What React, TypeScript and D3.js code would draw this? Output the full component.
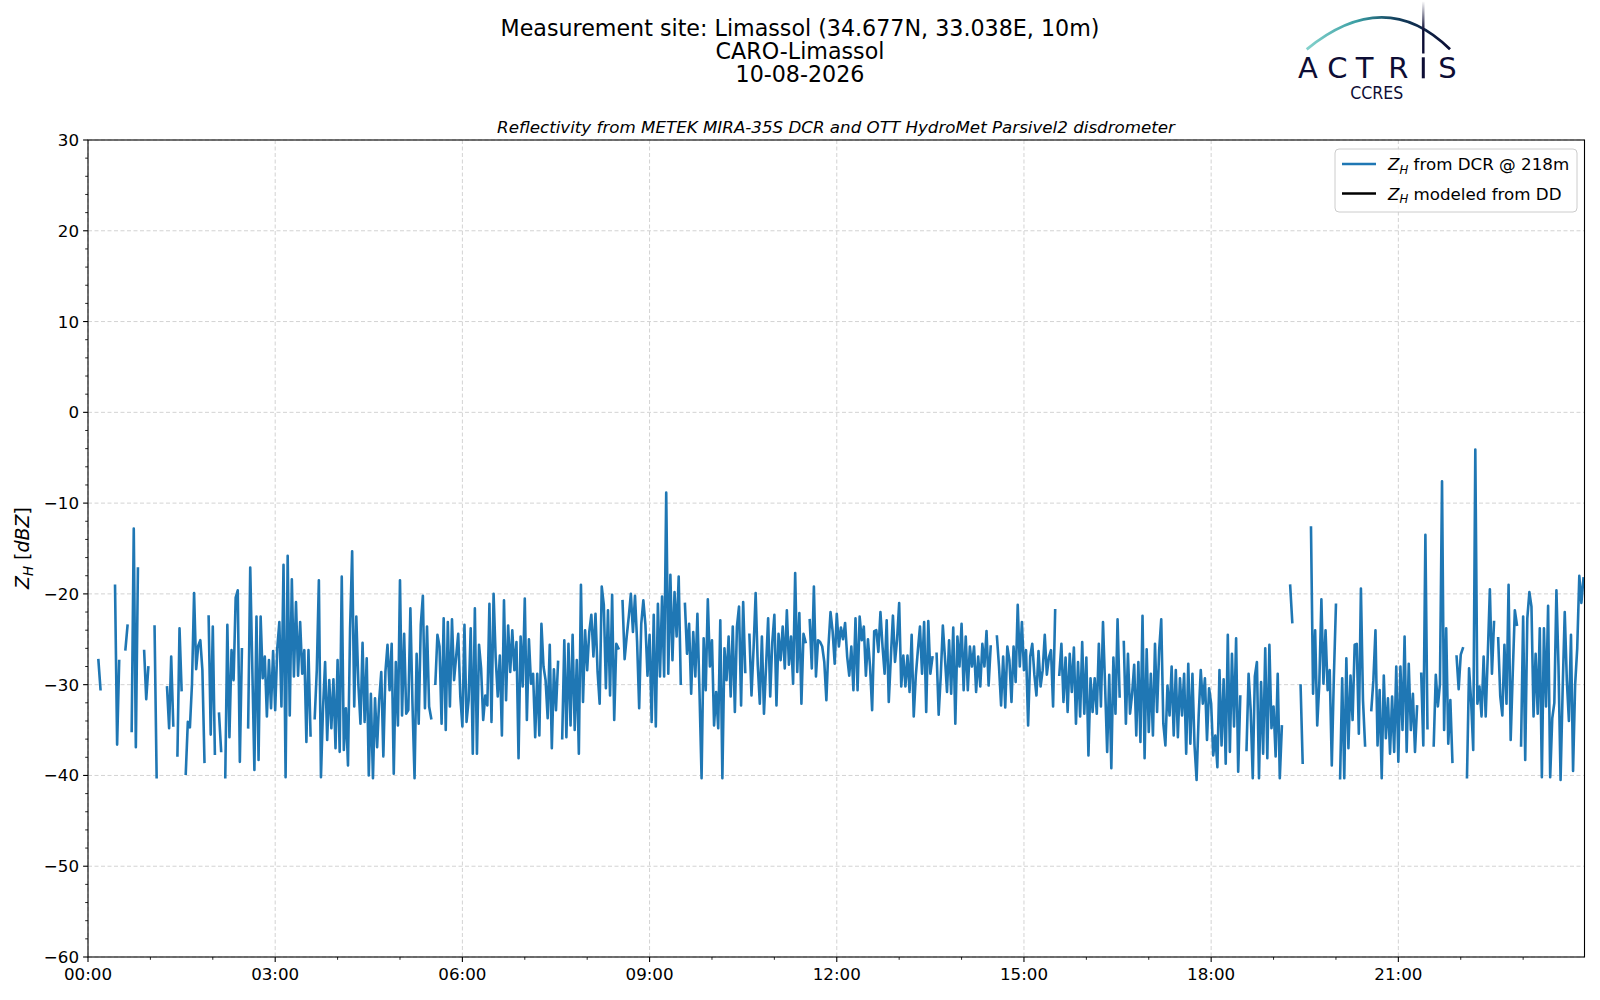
import React from 'react';
import * as d3 from 'd3';

const N = null;
const STEP_MIN = 2;
const BLOCK_MIN = 180;

// Z_H from DCR @ 218m, dBZ, one value every 2 minutes, one array per 3 hours
const zh0000: (number | null)[] = [
  N, N, N, N, N, -27.3, -30.5, N, N, N,
  N, N, N, -19.1, -36.6, -27.4, N, N, -26.1, -23.5,
  N, -35.1, -12.8, -36.9, -17.2, N, N, -26.3, -31.6, -28.1,
  N, N, -23.6, -40.2, N, N, N, N, -30.3, -34.8,
  -26.9, -34.5, N, -37.8, -23.8, -30.6, N, -39.8, -34.1, -34.7,
  -29.9, -19.9, -28.3, -25.7, -25.1, -28.4, -38.5, N, -22.5, -35.5,
  -23.6, -37.6, N, -33.2, -37.3, N, -40.2, -23.4, -35.8, -26.2,
  -29.5, -20.4, -19.6, -38.5, -26.1, N, N, -34.7, -17.1, -28.2,
  -39.4, -22.5, -38.3, -22.5, -29.3, -26.9, -33.5, -27.3, -32.6, -26.3,
];
const zh0300: (number | null)[] = [
  -32.8, -26.0, -23.1, -32.4, -16.8, -40.2, -15.8, -33.4, -18.4, -29.1,
  -20.9, -29.0, -23.1, -28.8, -26.2, -36.3, -26.2, -35.6, N, -33.7,
  -28.4, -18.5, -40.2, -32.6, -27.5, -36.1, -29.5, -34.8, -29.4, -37.0,
  -27.3, -37.4, -18.1, -37.2, -32.6, -38.9, -23.9, -15.3, -32.4, -22.5,
  -30.0, -34.3, -25.4, -34.1, -27.1, -40.0, -31.0, -40.3, -31.5, -36.9,
  -31.7, -28.6, -37.9, -28.6, -25.6, -30.6, -25.5, -39.8, -27.5, -34.5,
  -18.5, -33.4, -24.4, -33.2, -32.8, -21.6, -32.1, -40.3, -26.6, -34.3,
  -23.4, -20.2, -32.6, -23.6, -32.4, -33.7, N, -29.9, -24.5, -25.8,
  -34.3, -22.7, -35.0, -23.1, -32.4, -22.8, -29.5, -26.9, -24.4, -31.3,
];
const zh0600: (number | null)[] = [
  -34.6, -23.4, -34.1, -31.7, -23.8, -37.6, -21.6, -37.6, -25.6, -28.2,
  -33.9, -31.2, -32.3, -21.1, -34.1, -20.0, -27.0, -31.3, -26.8, -35.6,
  -20.7, -31.7, -23.5, -28.6, -24.0, -28.4, -25.3, -38.1, -24.7, -30.2,
  -20.5, -33.9, -25.0, -29.9, -28.8, -35.8, -28.8, -35.6, -23.3, -28.0,
  -29.5, -33.7, -25.6, -37.0, -28.3, -32.8, -27.5, N, -35.9, -25.1,
  -35.8, -25.5, -34.5, -24.5, -35.0, -27.3, -37.6, -19.0, -31.9, -24.0,
  -28.4, -24.2, -22.3, -26.9, -22.2, -28.6, -32.1, -19.2, -21.2, -30.4,
  -21.8, -31.2, -20.1, -33.9, -25.5, -26.0, N, -20.8, -27.2, -24.7,
  -22.5, -20.0, -24.2, -20.2, -25.3, -32.6, -23.3, -20.7, -23.4, -29.0,
];
const zh0900: (number | null)[] = [
  -24.5, -34.1, -22.3, -34.6, -21.1, -29.1, -20.3, -29.1, -8.85, -28.8,
  -17.9, -27.3, -19.8, -24.7, -18.1, -29.9, N, -21.1, -26.6, -23.3,
  -31.0, -24.2, -29.1, -22.2, -30.8, -40.3, -24.9, -30.6, -20.6, -28.0,
  -25.1, -34.5, -30.8, -34.8, -22.9, -40.3, -26.0, -29.5, -24.7, -31.3,
  -23.6, -33.0, -23.6, -21.4, -32.3, -20.9, -28.6, N, -24.5, -31.2,
  -26.0, -19.9, -27.8, -32.1, -24.7, -33.2, -28.0, -22.7, -31.3, -25.3,
  -22.3, -32.3, -24.4, -27.3, -23.6, -28.2, -21.8, -27.8, -24.7, -29.9,
  -17.7, -28.6, -22.1, -32.1, -24.4, -25.3, N, -22.9, -28.2, -19.2,
  -29.1, -25.1, -25.3, -25.8, -27.5, -31.7, -25.8, -22.0, -24.1, -27.7,
];
const zh1200: (number | null)[] = [
  -22.2, -25.8, -23.7, -25.0, -23.2, -26.9, -29.0, -25.8, -30.6, -22.7,
  -30.6, -22.5, -25.1, -23.6, -29.0, -25.0, -28.0, -32.8, -24.1, -24.0,
  -26.4, -22.0, -25.8, -28.8, -22.9, -31.9, -27.0, -22.4, -27.5, -25.0,
  -21.0, -30.2, -26.8, -30.2, -26.8, -30.8, -24.5, -33.5, -29.0, -26.2,
  -23.6, -28.8, -23.1, -33.0, -23.0, -28.8, -27.0, N, -26.6, -33.3,
  -29.0, -23.5, -27.0, -30.8, -25.1, -31.0, -23.7, -34.3, -24.7, -28.0,
  -23.3, -30.6, -24.7, -30.6, -25.8, -28.0, -25.8, -30.8, -26.9, -30.2,
  -25.5, -28.0, -24.1, -30.1, -25.8, N, N, -24.7, -28.0, -32.3,
  -26.9, -32.5, -25.8, -27.3, -31.9, -25.8, -29.7, -21.2, -28.0, -23.1,
];
const zh1500: (number | null)[] = [
  -28.4, -26.2, -34.5, -26.9, -25.5, -28.9, -31.2, -26.3, -30.2, -28.4,
  -24.5, -28.9, -27.0, -26.2, -32.4, -21.8, N, -28.9, -25.5, -31.9,
  -27.0, -33.0, -26.6, -30.8, -25.9, -34.3, -27.5, -33.5, -25.3, -33.2,
  -27.0, -37.8, -29.3, -33.0, -29.3, -33.2, -25.5, -32.4, -23.1, -30.1,
  -37.4, -28.9, -39.2, -27.0, -33.2, -22.8, -31.3, N, -25.3, -34.3,
  -26.6, -33.2, -31.0, -27.8, -35.6, -27.5, -36.3, -22.4, -38.1, -26.1,
  -35.2, -28.8, -35.6, -25.5, -33.0, -26.2, -22.8, -34.3, -36.7, -30.1,
  -33.4, -28.0, -35.6, -28.4, -35.8, -29.3, -33.4, -28.8, -37.6, -27.7,
  -36.5, -28.8, -36.7, -40.5, -33.4, -28.4, -32.1, -29.3, -36.1, -30.4,
];
const zh1800: (number | null)[] = [
  -32.1, -37.8, -35.6, -39.1, -28.4, -36.7, -29.4, -38.7, -24.5, -37.4,
  -26.6, -34.6, -24.9, -39.6, -31.3, N, N, -37.2, -28.8, -32.8,
  -40.3, -29.1, -27.5, -40.3, -29.7, -37.6, -26.0, -38.1, -25.6, -34.8,
  -32.4, -37.9, -28.8, -40.3, -34.6, N, N, N, -19.1, -23.1,
  N, N, N, -30.1, -38.6, N, N, N, -12.7, -31.0,
  -24.0, -34.5, -29.9, -20.6, -29.9, -24.0, -30.6, -28.4, -38.9, -29.1,
  -21.2, N, -40.3, -29.3, -40.3, -27.1, -37.0, -29.0, -33.9, -25.6,
  -25.5, -35.4, -19.4, -31.7, -36.7, N, N, -32.8, -29.5, -24.0,
  -36.7, -30.6, -40.3, -29.0, -35.9, -31.5, -37.6, -31.3, -37.4, -28.0,
];
const zh2100: (number | null)[] = [
  -38.5, -28.0, -35.0, -24.7, -37.4, -27.7, -35.0, -31.0, -37.4, -32.4,
  N, -28.8, -36.7, -13.5, -34.8, N, N, -36.7, -28.9, -32.4,
  -29.9, -7.6, -35.0, -23.8, -36.5, -31.7, -38.5, N, -26.9, -30.5,
  -26.7, -26.0, N, -40.2, -28.2, -31.9, -37.2, -4.1, -32.1, -30.2,
  -33.5, -26.9, -33.5, -26.7, -19.5, -28.8, -23.1, N, -24.9, -31.3,
  -33.4, -25.6, -32.1, -19.0, -36.1, -28.8, -21.8, -23.4, N, -36.7,
  -22.5, -38.3, -22.7, -19.8, -21.4, -33.5, -26.6, -33.2, -23.8, -40.2,
  -23.8, -32.4, -21.3, -40.2, -33.7, -32.0, -19.6, -28.0, -40.5, -30.5,
  -22.0, -29.5, -34.0, -24.5, -39.5, -30.0, -26.0, -18.0, -21.0, -18.3,
];
const dcrBlocks = [zh0000, zh0300, zh0600, zh0900, zh1200, zh1500, zh1800, zh2100];

const yMajorTicks = [-60, -50, -40, -30, -20, -10, 0, 10, 20, 30];
const xMajorMinutes = [0, 180, 360, 540, 720, 900, 1080, 1260];
const xTickLabels = ['00:00', '03:00', '06:00', '09:00', '12:00', '15:00', '18:00', '21:00'];
const titleLines = ['Measurement site: Limassol (34.677N, 33.038E, 10m)', 'CARO-Limassol', '10-08-2026'];
const subtitle = 'Reflectivity from METEK MIRA-35S DCR and OTT HydroMet Parsivel2 disdrometer';
const legendLabels = ['from DCR @ 218m', 'modeled from DD'];
const legendColors = ['#1f77b4', '#000000'];
const logoLetters = ['A', 'C', 'T', 'R', 'S'];
const logoLetterX = [1307.8, 1337.3, 1364.5, 1398.3, 1447.5];

const FONT = '"DejaVu Sans", sans-serif';
const L = 88, R = 1584.5, T = 140, B = 957;

type Pt = { t: number; v: number | null };

export default function App() {
  const x = d3.scaleLinear().domain([0, 1439]).range([L, R]);
  const y = d3.scaleLinear().domain([-60, 30]).range([B, T]);
  const pts: Pt[] = dcrBlocks.flatMap((blk, b) => blk.map((v, i) => ({ t: b * BLOCK_MIN + i * STEP_MIN, v })));
  const line = d3
    .line<Pt>()
    .defined((d) => d.v != null)
    .x((d) => x(d.t))
    .y((d) => y(d.v as number));
  const yMinor = d3.range(-60, 31, 2).filter((v) => v % 10 !== 0);
  const xMinor = d3.range(0, 1440, 60).filter((m) => m % 180 !== 0);
  const fmt = (v: number) => (v < 0 ? '\u2212' + Math.abs(v) : String(v));

  return (
    <div style={{ position: 'absolute', left: 0, top: 0 }}>
      <svg width={1600} height={1000} xmlns="http://www.w3.org/2000/svg" style={{ display: 'block', background: '#fff' }}>
        <defs>
          <linearGradient id="arcGrad" x1="1306" y1="0" x2="1452" y2="0" gradientUnits="userSpaceOnUse">
            <stop offset="0" stopColor="#86d3cd" />
            <stop offset="0.35" stopColor="#3a9ea3" />
            <stop offset="0.62" stopColor="#123e5c" />
            <stop offset="1" stopColor="#0b0c33" />
          </linearGradient>
          <linearGradient id="barGrad" x1="0" y1="1" x2="0" y2="30" gradientUnits="userSpaceOnUse">
            <stop offset="0" stopColor="#ffffff" />
            <stop offset="1" stopColor="#0b0c33" />
          </linearGradient>
          <clipPath id="plotClip">
            <rect x={L} y={T} width={R - L} height={B - T} />
          </clipPath>
        </defs>

        {/* titles */}
        <g fontFamily={FONT} fill="#000" textAnchor="middle">
          {titleLines.map((s, i) => (
            <text key={s} x={800} y={36.3 + i * 23} fontSize={22.2}>
              {s}
            </text>
          ))}
          <text x={836} y={132.5} fontSize={16.7} fontStyle="italic">
            {subtitle}
          </text>
        </g>

        {/* logo */}
        <g>
          <path d="M1306.7,49.3 Q1385,-14.5 1450,49.3" stroke="url(#arcGrad)" strokeWidth={2.8} fill="none" />
          <rect x={1422.1} y={1.5} width={2.4} height={52} fill="url(#barGrad)" />
          <rect x={1421.8} y={57.3} width={3} height={21} fill="#0d0d35" />
          {logoLetters.map((c, i) => (
            <text key={c + i} x={logoLetterX[i]} y={78.3} fontFamily={FONT} fontSize={29} fill="#0d0d35" textAnchor="middle">
              {c}
            </text>
          ))}
          <text x={1376.7} y={99} fontFamily={FONT} fontSize={17} fill="#0d0d35" textAnchor="middle" textLength={53} lengthAdjust="spacingAndGlyphs">
            CCRES
          </text>
        </g>

        {/* grid */}
        <g stroke="#d3d3d3" strokeWidth={1} strokeDasharray="4,2.5">
          {xMajorMinutes.map((m) => (
            <line key={'gx' + m} x1={x(m)} x2={x(m)} y1={T} y2={B} />
          ))}
          {yMajorTicks.map((v) => (
            <line key={'gy' + v} x1={L} x2={R} y1={y(v)} y2={y(v)} />
          ))}
        </g>

        {/* data */}
        <g clipPath="url(#plotClip)">
          <path d={line(pts) || ''} fill="none" stroke="#1f77b4" strokeWidth={2.6} strokeLinejoin="round" strokeLinecap="square" />
        </g>

        {/* frame */}
        <rect x={L} y={T} width={R - L} height={B - T} fill="none" stroke="#000" strokeWidth={1.1} />

        {/* ticks */}
        <g stroke="#000">
          {yMajorTicks.map((v) => (
            <line key={'ty' + v} x1={L - 4.9} x2={L} y1={y(v)} y2={y(v)} strokeWidth={1.1} />
          ))}
          {yMinor.map((v) => (
            <line key={'tym' + v} x1={L - 2.8} x2={L} y1={y(v)} y2={y(v)} strokeWidth={0.85} />
          ))}
          {xMajorMinutes.map((m) => (
            <line key={'tx' + m} x1={x(m)} x2={x(m)} y1={B} y2={B + 4.9} strokeWidth={1.1} />
          ))}
          {xMinor.map((m) => (
            <line key={'txm' + m} x1={x(m)} x2={x(m)} y1={B} y2={B + 2.8} strokeWidth={0.85} />
          ))}
        </g>
        <g fontFamily={FONT} fontSize={16.7} fill="#000">
          {yMajorTicks.map((v) => (
            <text key={'ly' + v} x={L - 9} y={y(v) + 6} textAnchor="end">
              {fmt(v)}
            </text>
          ))}
          {xMajorMinutes.map((m, i) => (
            <text key={'lx' + m} x={x(m)} y={B + 23} textAnchor="middle">
              {xTickLabels[i]}
            </text>
          ))}
        </g>

        {/* y label */}
        <text transform="translate(29,548) rotate(-90)" fontFamily={FONT} fontSize={19} fill="#000" textAnchor="middle">
          <tspan fontStyle="italic">Z</tspan>
          <tspan fontStyle="italic" fontSize={13.3} dy={4}>H</tspan>
          <tspan dy={-4}> [</tspan>
          <tspan fontStyle="italic">dBZ</tspan>
          <tspan>]</tspan>
        </text>

        {/* legend */}
        <g fontFamily={FONT} fontSize={16.7}>
          <rect x={1335} y={149} width={242} height={63} rx={4} fill="#fff" fillOpacity={0.8} stroke="#cccccc" strokeWidth={1} />
          {legendLabels.map((lab, i) => (
            <g key={lab}>
              <line x1={1342} x2={1376} y1={164 + i * 29.5} y2={164 + i * 29.5} stroke={legendColors[i]} strokeWidth={2.6} />
              <text x={1388} y={170 + i * 29.5} fill="#000">
                <tspan fontStyle="italic">Z</tspan>
                <tspan fontStyle="italic" fontSize={11.7} dy={3.5}>H</tspan>
                <tspan dy={-3.5}> {lab}</tspan>
              </text>
            </g>
          ))}
        </g>
      </svg>
    </div>
  );
}
